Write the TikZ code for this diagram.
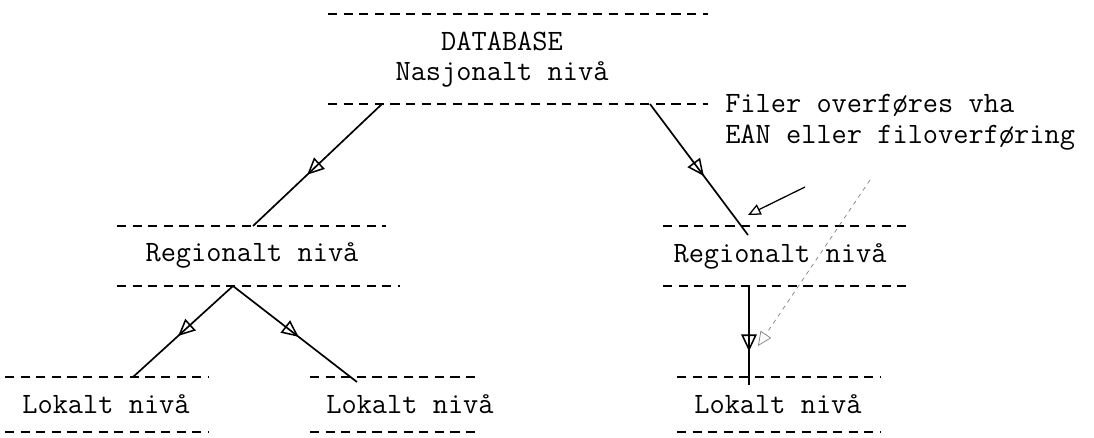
\documentclass[tikz,border=0pt]{standalone}
\usepackage{fontspec}
\setmonofont{Latin Modern Mono}[FakeStretch=1.0]
\usetikzlibrary{arrows.meta, decorations.markings}

\begin{document}
\begin{tikzpicture}[x=0.025cm, y=-0.025cm,
  txt/.style={font=\ttfamily\fontsize{21}{21.5}\selectfont, inner sep=0pt},
  rule/.style={line width=0.9pt, dash pattern=on 6.5pt off 4.6pt},
  flow/.style={line width=1.2pt, postaction={decorate}, decoration={markings, mark=at position #1 with {\arrow{Triangle[open, length=12pt, width=11pt, line width=1.1pt]}}}},
  flow/.default=0.55,
  note/.style={line width=0.9pt, -{Triangle[open, length=9pt, width=8pt]}},
  hint/.style={gray, line width=0.5pt, dash pattern=on 3pt off 3pt, -{Triangle[open, length=10pt, width=9pt]}}]
  \useasboundingbox (0,0) rectangle (1094,437);

  % nasjonalt niva
  \draw[rule] (328,14) -- (708,14);
  \node[txt, align=center] (nat) at (502,60) {DATABASE\\Nasjonalt nivå};
  \draw[rule] (328,104) -- (708,104);
  \coordinate (nat-l) at (382,104);
  \coordinate (nat-r) at (650,104);

  % regionalt niva
  \draw[rule] (117,226) -- (386,226);
  \node[txt, anchor=base] (reg1) at (252,261) {Regionalt nivå};
  \draw[rule] (117,286) -- (400,286);
  \coordinate (reg1-t) at (253,226);
  \coordinate (reg1-b) at (233,286);

  \draw[rule] (663,226) -- (912,226);
  \node[txt, anchor=base] (reg2) at (780,262) {Regionalt nivå};
  \draw[rule] (663,286) -- (912,286);
  \coordinate (reg2-t) at (748,235);
  \coordinate (reg2-b) at (749,286);

  % lokalt niva
  \draw[rule] (5,377) -- (208,377);
  \node[txt, anchor=base] (lok1) at (106,413) {Lokalt nivå};
  \draw[rule] (5,432) -- (208,432);
  \coordinate (lok1-t) at (133,377);

  \draw[rule] (310,377) -- (480,377);
  \node[txt, anchor=base] (lok2) at (410,413) {Lokalt nivå};
  \draw[rule] (310,432) -- (480,432);
  \coordinate (lok2-t) at (357,382);

  \draw[rule] (677,377) -- (880,377);
  \node[txt, anchor=base] (lok3) at (778,413) {Lokalt nivå};
  \draw[rule] (677,432) -- (880,432);
  \coordinate (lok3-t) at (749,385);

  % forklaring
  \node[txt, align=left, anchor=base west] (fil) at (725,143) {Filer overføres vha\\EAN eller filoverføring};
  \coordinate (fil-a) at (805,187);
  \coordinate (fil-b) at (870,180);

  \draw[flow=0.58] (nat-l) -- (reg1-t);
  \draw[flow=0.55] (nat-r) -- (reg2-t);
  \draw[flow=0.55] (reg1-b) -- (lok1-t);
  \draw[flow=0.53] (reg1-b) -- (lok2-t);
  \draw[flow=0.66] (reg2-b) -- (lok3-t);
  \draw[note] (fil-a) -- (reg2-t |- 0,215) coordinate (fil-tip);
  \draw[hint] (fil-b) -- (758,346);
\end{tikzpicture}
\end{document}
